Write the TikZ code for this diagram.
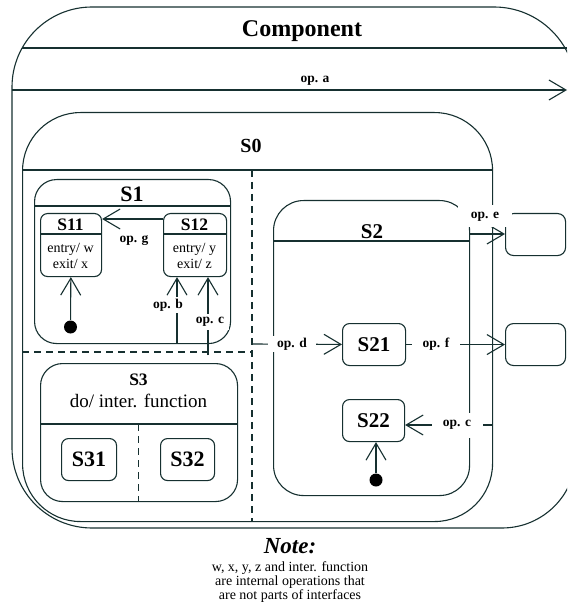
\documentclass[tikz,border=0pt]{standalone}
\usepackage{fontspec}
\setmainfont{Liberation Serif}
\usetikzlibrary{arrows.meta}
\definecolor{ink}{RGB}{22,48,48}

\tikzset{
  st/.style={draw=ink, rounded corners=#1, inner sep=0pt, anchor=north west},
  wh/.style 2 args={minimum width=#1, minimum height=#2},
  arr/.style={draw=ink, -{Straight Barb[length=17pt,width=20pt]}},
  dashln/.style={draw=ink, dash pattern=on 7pt off 5pt},
  oplab/.style={fill=white, inner xsep=7pt, inner ysep=2pt, text=black,
                font=\fontsize{13.5}{15}\selectfont\bfseries},
  dot/.style={circle, fill=black, draw=none, minimum size=13pt, inner sep=0pt},
  big/.style={font=\fontsize{#1}{#1}\selectfont\bfseries, text=black, inner sep=0pt},
  txt/.style={font=\fontsize{#1}{#1}\selectfont, text=black, inner sep=0pt, anchor=base},
}

\begin{document}
\begin{tikzpicture}[x=1pt, y=-1pt, line width=1.1pt]
\fill[white] (0,0) rectangle (567,609);
\useasboundingbox (0,0) rectangle (567,609);

% outer component frame; its right side runs past the edge and is clipped
\begin{scope}
  \clip (0,0) rectangle (567,609);
  \draw[ink] (12,300) [rounded corners=80pt] |- (300,7) [rounded corners=82pt] -| (576,300)
    [rounded corners=74pt] |- (300,528) [rounded corners=80pt] -| (12,300) -- cycle;
  \draw[ink] (22.2,48) -- (567,48);
\end{scope}
\node[big=24, anchor=base] (comp) at (302,37) {Component};

% S0
\node[st=58pt, wh={470pt}{409pt}] (S0) at (22,112) {};
\draw[ink] (22,170) -- (492,170);
\node[big=20, anchor=base] (s0t) at (251,153) {S0};
\draw[dashln] (252,170) -- (252,521);
\draw[dashln] (22,352) -- (252,352);

% S1 and its substates
\node[st=22pt, wh={196pt}{164pt}] (S1) at (34,179) {};
\draw[ink] (34,206) -- (230,206);
\node[big=22, anchor=base] (s1t) at (132,202) {S1};

\node[st=7pt, wh={61pt}{63pt}] (S11) at (40,213) {};
\draw[ink] (40,234) -- (101,234);
\node[big=17.5, anchor=base] (s11t) at (70.5,230) {S11};
\node[txt=14] (s11a) at (70.5,252) {entry/ w};
\node[txt=14] (s11b) at (70.5,268) {exit/ x};

\node[st=7pt, wh={63pt}{63pt}] (S12) at (163,213) {};
\draw[ink] (163,234) -- (226,234);
\node[big=17.5, anchor=base] (s12t) at (194.5,230) {S12};
\node[txt=14] (s12a) at (194.5,252) {entry/ y};
\node[txt=14] (s12b) at (194.5,268) {exit/ z};

% S2 and its substates
\node[st=30pt, wh={196pt}{295pt}] (S2) at (273,200) {};
\draw[ink] (273,241) -- (469,241);
\node[big=21, anchor=base] (s2t) at (372,238) {S2};
\node[st=7pt, wh={63pt}{42pt}, big=21] (S21) at (342,323) {S21};
\node[st=7pt, wh={62pt}{42pt}, big=21] (S22) at (342,399) {S22};

% S3 and its regions
\node[st=22pt, wh={197pt}{138pt}] (S3) at (40,363) {};
\draw[ink] (40,424) -- (237,424);
\draw[dashln] (138.5,424) -- (138.5,501);
\node[big=17.5, anchor=base] (s3t) at (138.5,385) {S3};
\node[txt=19] (s3d) at (138.5,407) {do/ inter. function};
\node[st=7pt, wh={55pt}{42pt}, big=22] (S31) at (61,438) {S31};
\node[st=7pt, wh={54pt}{42pt}, big=22] (S32) at (160,438) {S32};

% external targets
\node[st=8pt, wh={60pt}{42pt}] (boxE) at (505,213) {};
\node[st=8pt, wh={60pt}{42pt}] (boxF) at (505,323) {};

% initial states
\node[dot] (d1) at (70.5,327) {};
\node[dot] (d2) at (376,480) {};

% connector end points
\coordinate (aL) at (12,90);
\coordinate (aR) at (567,90);
\coordinate (gY) at (0,219);
\coordinate (bS) at (177,343);
\coordinate (cS) at (208,355);
\coordinate (dS) at (252,344);
\coordinate (eS) at (469,234);
\coordinate (c2S) at (492,425);

% transitions
\draw[arr] (aL) -- (aR);
\draw[arr] (S12.west |- gY) -- (S11.east |- gY);
\draw[arr] (d1) -- (S11);
\draw[arr] (bS) -- (bS |- S12.south);
\draw[arr] (cS) -- (cS |- S12.south);
\draw[arr] (dS) -- (S21);
\draw[arr] (S21) -- (boxF);
\draw[arr] (eS) -- (eS -| boxE.west);
\draw[arr] (c2S) -- (c2S -| S22.east);
\draw[arr] (d2) -- (d2 |- S22.south);

% transition labels
\node[oplab, fill=none, anchor=base] (la) at (315,83) {op. a};
\node[oplab, fill=none, anchor=base] (lg) at (134,243) {op. g};
\node[oplab, inner xsep=4pt] (lb) at (168,305) {op. b};
\node[oplab, inner xsep=5pt, inner ysep=3pt] (lc) at (210,322) {op. c};
\node[oplab, inner xsep=9pt] (ld) at (292,344) {op. d};
\node[oplab, inner xsep=11pt] (lf) at (436,344) {op. f};
\node[oplab, minimum width=54pt, minimum height=22pt] (le) at (485,216.5) {op. e};
\node[oplab, minimum width=51pt, minimum height=25pt] (lc2) at (457,425) {op. c};

% note
\node[font=\fontsize{23}{23}\selectfont\bfseries\itshape, text=black, inner sep=0pt, anchor=base] (nt) at (290,553) {Note:};
\node[txt=14] (n1) at (290,571) {w, x, y, z and inter. function};
\node[txt=14] (n2) at (290,585) {are internal operations that};
\node[txt=14] (n3) at (290,599) {are not parts of interfaces};
\end{tikzpicture}
\end{document}
